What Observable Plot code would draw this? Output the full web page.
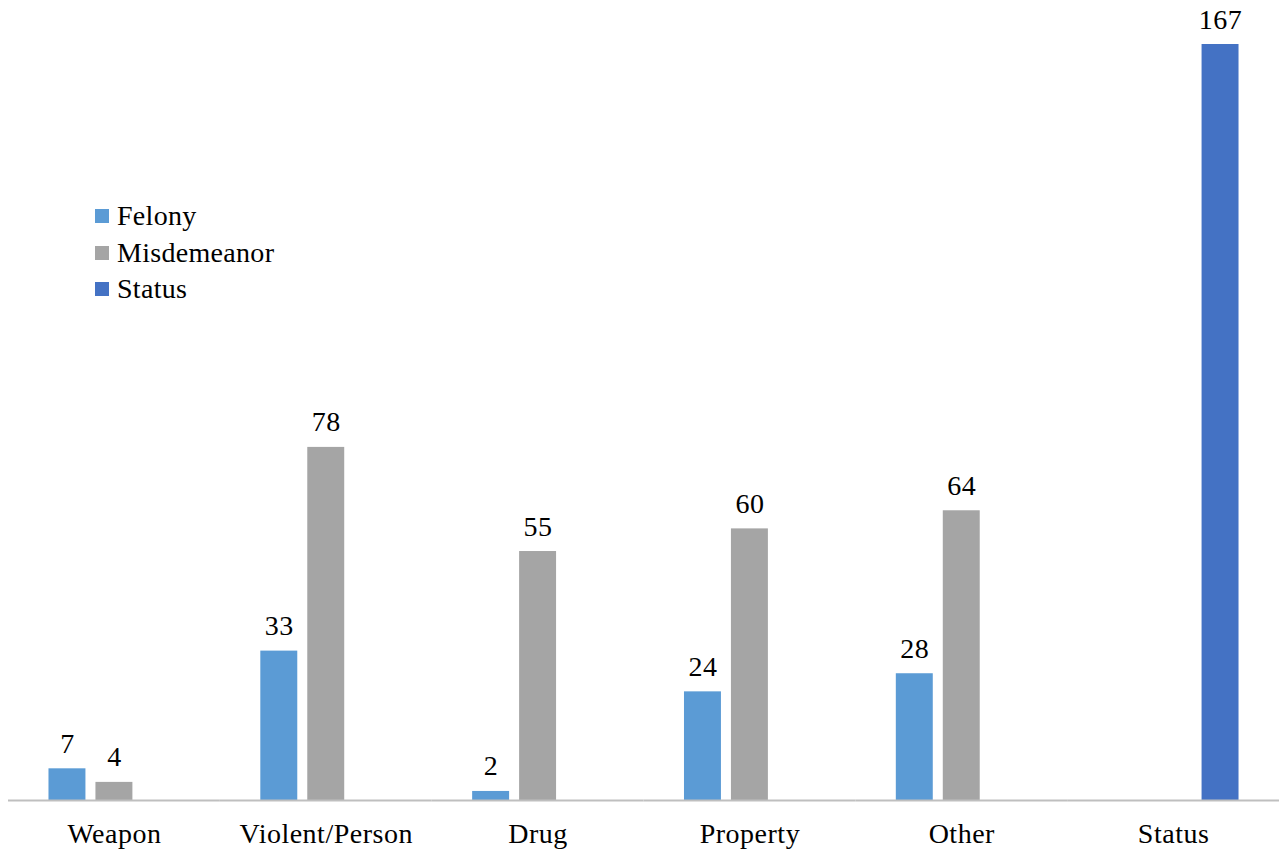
<!DOCTYPE html>
<html>
<head>
<meta charset="utf-8">
<script src="https://cdn.jsdelivr.net/npm/d3@7"></script>
<script src="https://cdn.jsdelivr.net/npm/@observablehq/plot@0.6"></script>
<style>
  html, body { margin: 0; padding: 0; background: #fff; }
  #wrap { position: relative; width: 1282px; height: 852px; font-family: 'Liberation Serif', 'Times New Roman', serif; }
  #legend { position: absolute; left: 95px; top: 198px; font-size: 28px; color: #000; line-height: 36.5px; letter-spacing: 0.3px; font-family: 'Liberation Serif', 'Times New Roman', serif; }
  #legend .item { display: flex; align-items: center; }
  #legend .sw { width: 14px; height: 14px; margin-right: 8px; display: inline-block; }
</style>
</head>
<body>
<div id="wrap"><div id="legend"></div></div>
<script>
const categories = ["Weapon", "Violent/Person", "Drug", "Property", "Other", "Status"];
const series = ["Felony", "Misdemeanor", "Status"];
const colors = ["#5b9bd5", "#a5a5a5", "#4472c4"];
const felony = [7, 33, 2, 24, 28, null];
const misdemeanor = [4, 78, 55, 60, 64, null];
const status = [null, null, null, null, null, 167];

const seriesValues = [felony, misdemeanor, status];
const data = [];
categories.forEach((c, i) => {
  series.forEach((s, j) => {
    const v = seriesValues[j][i];
    if (v != null) data.push({category: c, series: s, value: v});
  });
});

const font = "'Liberation Serif', 'Times New Roman', serif";
const chart = Plot.plot({
  width: 1282,
  height: 852,
  marginLeft: 8,
  marginRight: 3,
  marginTop: 44,
  marginBottom: 52,
  style: {fontFamily: font, fontSize: "28px", color: "#000", background: "#fff", overflow: "visible", letterSpacing: "0.5px"},
  fx: {domain: categories, padding: 0, label: null, round: false},
  x: {domain: series, paddingInner: 0.213, paddingOuter: 0.862, axis: null, round: false},
  y: {domain: [0, d3.max(data, d => d.value)], axis: null},
  color: {domain: series, range: colors},
  marks: [
    Plot.barY(data, {fx: "category", x: "series", y: "value", fill: "series"}),
    Plot.text(data, {fx: "category", x: "series", y: "value", text: d => String(d.value), dy: -16, lineAnchor: "bottom", fontSize: 28, fill: "#000"}),
    Plot.ruleY([0], {stroke: "#bfbfbf", strokeWidth: 2}),
    Plot.axisFx({tickSize: 0, tickPadding: 23, fontSize: 28, label: null, anchor: "bottom"})
  ]
});
const wrap = document.getElementById("wrap");
wrap.insertBefore(chart, wrap.firstChild);

const legend = document.getElementById("legend");
series.forEach((s, j) => {
  const item = document.createElement("div");
  item.className = "item";
  const sw = document.createElement("span");
  sw.className = "sw";
  sw.style.background = colors[j];
  const label = document.createElement("span");
  label.textContent = s;
  item.appendChild(sw);
  item.appendChild(label);
  legend.appendChild(item);
});
</script>
</body>
</html>
